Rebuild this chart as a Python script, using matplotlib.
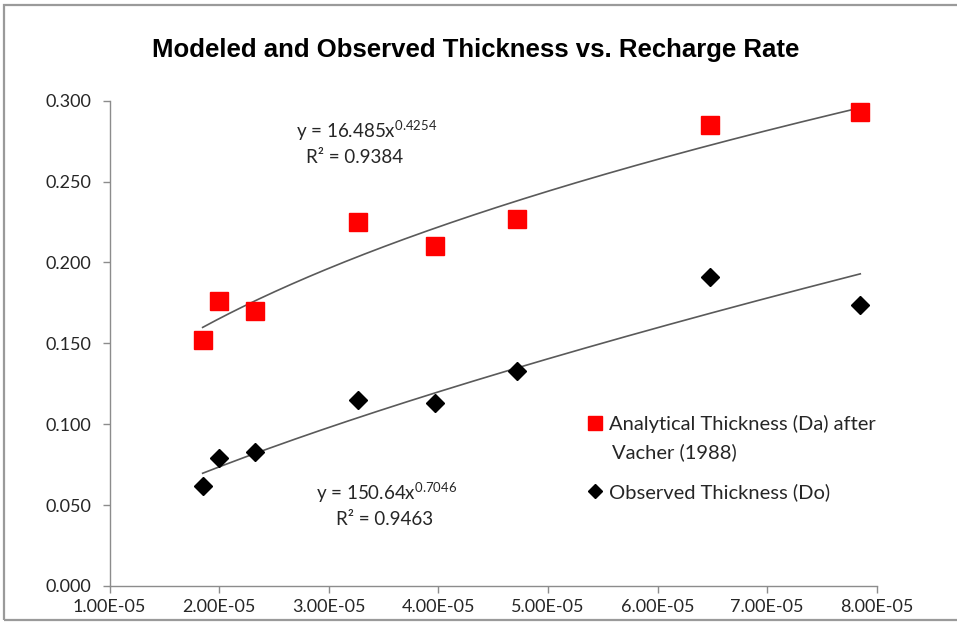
import numpy as np
import matplotlib.pyplot as plt
from matplotlib.lines import Line2D
from matplotlib.patches import Rectangle

plt.rcParams["font.family"] = ["Lato", "DejaVu Sans"]
plt.rcParams["mathtext.default"] = "regular"

# recharge rate (x) and thickness values
recharge = [1.85e-5, 2.00e-5, 2.33e-5, 3.27e-5, 3.97e-5, 4.72e-5, 6.48e-5, 7.85e-5]
analytical = [0.152, 0.176, 0.170, 0.225, 0.210, 0.227, 0.285, 0.293]
observed = [0.062, 0.079, 0.083, 0.115, 0.113, 0.133, 0.191, 0.174]

# power-law trendlines y = a * x^b
fit_a = (16.485, 150.64)
fit_b = (0.4254, 0.7046)
fit_r2 = (0.9384, 0.9463)

W, H = 957, 641
TXT = "#262626"
fig = plt.figure(figsize=(W / 100, H / 100), dpi=100)
fig.patch.set_facecolor("white")
fig.patches.append(Rectangle((4 / W, 1 - 620 / H), 1.0, (620 - 5) / H,
                             transform=fig.transFigure, fill=False,
                             edgecolor="#9a9a9a", linewidth=1.6))

ax = fig.add_axes([109.5 / W, 1 - 586 / H, (876.7 - 109.5) / W, (586 - 100.7) / H])

xs = np.linspace(min(recharge), max(recharge), 200)
for a, b in zip(fit_a, fit_b):
    ax.plot(xs, a * xs ** b, color="#5a5a5a", lw=1.2, zorder=2)

ax.plot(recharge, analytical, ls="none", marker="s", ms=13, color="#ff0000",
        mec="#ff0000", zorder=3)
ax.plot(recharge, observed, ls="none", marker="D", ms=9.5, color="black", zorder=3)

ax.set_xlim(1e-5, 8e-5)
ax.set_ylim(0, 0.3)
ax.set_xticks(np.arange(1, 9) * 1e-5)
ax.set_xticklabels([f"{v:.2f}E-05" for v in range(1, 9)])
ax.set_yticks(np.arange(0, 0.31, 0.05))
ax.set_yticklabels([f"{v:.3f}" for v in np.arange(0, 0.31, 0.05)])
for s in ("top", "right"):
    ax.spines[s].set_visible(False)
for s in ("left", "bottom"):
    ax.spines[s].set_color("#8c8c8c")
    ax.spines[s].set_linewidth(1.0)
ax.tick_params(direction="out", length=5, width=1.0, color="#8c8c8c",
               labelsize=13, labelcolor=TXT)
ax.tick_params(axis="y", pad=8)
ax.tick_params(axis="x", pad=4)

# trendline equations
eq_kw = dict(ha="center", va="center", fontsize=13.5, color=TXT)
ax.text(3.35e-5, 0.2813, f"y = {fit_a[0]}x$^{{{fit_b[0]}}}$", **eq_kw)
ax.text(3.24e-5, 0.2646, f"R² = {fit_r2[0]}", **eq_kw)
ax.text(3.53e-5, 0.0575, f"y = {fit_a[1]}x$^{{{fit_b[1]}}}$", **eq_kw)
ax.text(3.51e-5, 0.0408, f"R² = {fit_r2[1]}", **eq_kw)

fig.text(0.497, 1 - 50 / H, "Modeled and Observed Thickness vs. Recharge Rate",
         ha="center", va="center", fontsize=18.5, fontweight="bold",
         family=["Liberation Sans", "DejaVu Sans"], color="black")

handles = [
    Line2D([], [], ls="none", marker="s", ms=10.5, color="#ff0000"),
    Line2D([], [], ls="none", marker="D", ms=7.5, color="black"),
]
leg = ax.legend(handles, ["Analytical Thickness (Da) after", "Observed Thickness (Do)"],
                loc="upper left", bbox_to_anchor=(588 / W, 1 - 415 / H),
                bbox_transform=fig.transFigure, frameon=False, fontsize=14.5,
                handlelength=0.7, handletextpad=0.35, labelspacing=2.5,
                borderpad=0, borderaxespad=0, labelcolor=TXT)
fig.text(612 / W, 1 - 452 / H, "Vacher (1988)", ha="left", va="center",
         fontsize=14.5, color=TXT)

fig.savefig("out.png", dpi=100)
